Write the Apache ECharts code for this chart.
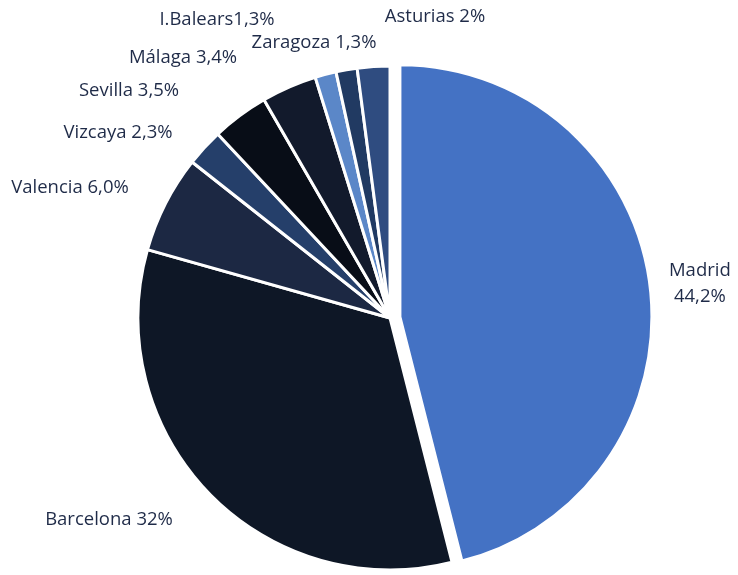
<!DOCTYPE html>
<html><head><meta charset="utf-8">
<script src="https://cdn.jsdelivr.net/npm/echarts@6/dist/echarts.min.js"></script>
<style>html,body{margin:0;padding:0;background:#fff}#c{width:738px;height:575px}</style>
</head><body><div id="c"></div>
<script>
const categories = ['Madrid','Barcelona','Valencia','Vizcaya','Sevilla','Málaga','I.Balears','Zaragoza','Asturias'];
const values = [44.2, 32, 6.0, 2.3, 3.5, 3.4, 1.3, 1.3, 2];
const labelTexts = ['Madrid\n44,2%','Barcelona 32%','Valencia 6,0%','Vizcaya 2,3%','Sevilla 3,5%','Málaga 3,4%','I.Balears1,3%','Zaragoza 1,3%','Asturias 2%'];
const colors = ['#4472C4','#0E1726','#1C2843','#253F6A','#080D17','#121A2C','#5B87C8','#213A62','#2F4C80'];
const labelPos = [[704,283],[109,520],[70,188],[118,133],[129,91],[183,58],[217,20],[314,43],[435,17]];

const chart = echarts.init(document.getElementById('c'));
chart.setOption({
  animation:false,
  series:[{
    type:'pie',
    center:[390,318],
    radius:[0,252],
    startAngle:90,
    clockwise:true,
    selectedMode:'multiple',
    selectedOffset:10,
    itemStyle:{borderColor:'#fff',borderWidth:3},
    label:{show:true,position:'outside',color:'#1F2B48',fontFamily:'Open Sans',fontSize:18.5,lineHeight:26,
      overflow:'none',width:200,formatter:p=>labelTexts[p.dataIndex]},
    labelLine:{show:false},
    labelLayout:p=>({x:labelPos[p.dataIndex][0],y:labelPos[p.dataIndex][1],align:'center',verticalAlign:'middle'}),
    emphasis:{disabled:true},
    data:categories.map((c,i)=>({name:c,value:values[i],selected:i===0,itemStyle:{color:colors[i]}}))
  }]
});
</script></body></html>
